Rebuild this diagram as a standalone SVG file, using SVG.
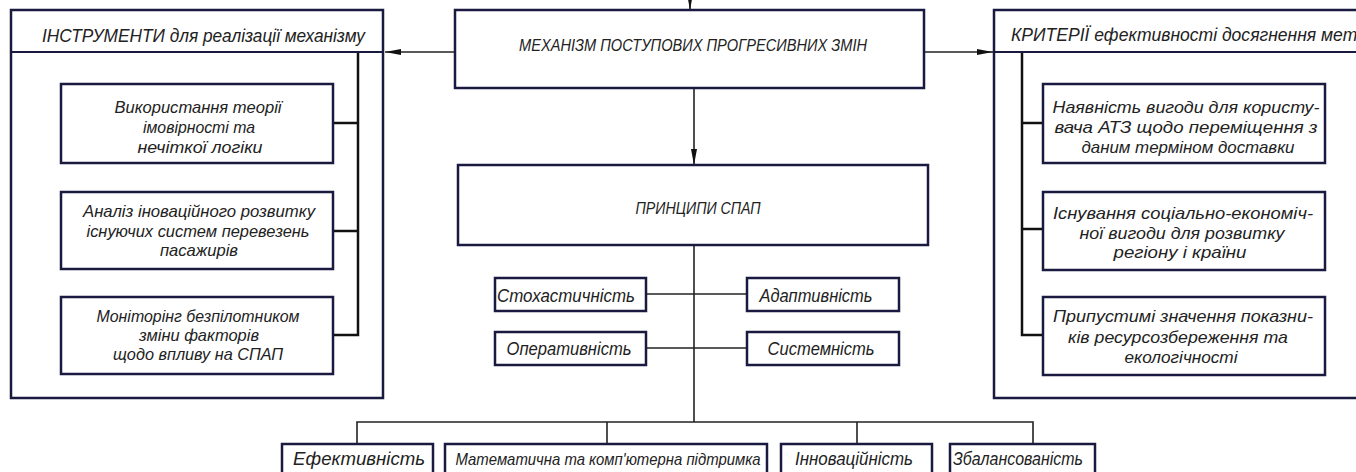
<svg xmlns="http://www.w3.org/2000/svg" width="1356" height="472" viewBox="0 0 1356 472">
  <style>
    .bg { fill: #ffffff; }
    .panel { fill: #ffffff; stroke: #1a1a40; stroke-width: 2.5; }
    .box { fill: #ffffff; stroke: #1a1a40; stroke-width: 2.5; }
    .sep { stroke: #1a1a40; stroke-width: 2; fill: none; }
    .bus { stroke: #111111; stroke-width: 2.5; fill: none; }
    .wire { stroke: #222222; stroke-width: 1.6; fill: none; }
    .arrow { stroke: #222222; stroke-width: 1.6; fill: none; marker-end: url(#ah); }
    text { font-family: "Liberation Sans Narrow", "Liberation Sans", Arial, sans-serif; font-style: italic; fill: #222222; }
    .t17 { font-size: 17px; }
    .t19 { font-size: 19px; }
    .t16 { font-size: 16px; }
    .mid { text-anchor: middle; }
  </style>
  <defs>
    <marker id="ah" viewBox="0 0 16 6" refX="16" refY="3" markerWidth="16" markerHeight="6" markerUnits="userSpaceOnUse" orient="auto">
      <path d="M0,0 L16,3 L0,6 Z" fill="#111111"/>
    </marker>
  </defs>
  <rect class="bg" x="0" y="0" width="1356" height="472"/>

  <g id="connectors">
    <line class="arrow" x1="690" y1="-6" x2="690" y2="10"/>
    <line class="arrow" x1="694" y1="88" x2="694" y2="165"/>
    <line class="arrow" x1="455" y1="52" x2="385" y2="52"/>
    <line class="arrow" x1="924" y1="52" x2="993" y2="52"/>
    <line class="wire" x1="694" y1="245" x2="694" y2="422"/>
    <line class="wire" x1="646" y1="294" x2="747" y2="294"/>
    <line class="wire" x1="646" y1="348" x2="747" y2="348"/>
    <polyline class="wire" points="357,444 357,422 1033,422 1033,444"/>
    <line class="wire" x1="607" y1="422" x2="607" y2="444"/>
    <line class="wire" x1="857" y1="422" x2="857" y2="444"/>
    <polyline class="bus" points="358,52 358,335 333,335"/>
    <line class="bus" x1="333" y1="123" x2="358" y2="123"/>
    <line class="bus" x1="333" y1="231" x2="358" y2="231"/>
    <polyline class="bus" points="1022,52 1022,335 1043,335"/>
    <line class="bus" x1="1022" y1="123" x2="1043" y2="123"/>
    <line class="bus" x1="1022" y1="229" x2="1043" y2="229"/>
  </g>

  <g id="tools-panel">
    <rect class="panel" x="11" y="10" width="372" height="388" fill="none" style="fill:none"/>
    <line class="sep" x1="11" y1="52" x2="383" y2="52"/>
    <text class="t19 mid" x="203.5" y="42" textLength="323" lengthAdjust="spacingAndGlyphs">ІНСТРУМЕНТИ для реалізації механізму</text>
  </g>
  <g id="tool-1">
    <rect class="box" x="61" y="84" width="272" height="79"/>
    <text class="t17 mid" x="198" y="113" textLength="167" lengthAdjust="spacingAndGlyphs">Використання теорії</text>
    <text class="t17 mid" x="199" y="133" textLength="112" lengthAdjust="spacingAndGlyphs">імовірності та</text>
    <text class="t17 mid" x="200" y="153" textLength="125" lengthAdjust="spacingAndGlyphs">нечіткої логіки</text>
  </g>
  <g id="tool-2">
    <rect class="box" x="61" y="192" width="272" height="77"/>
    <text class="t17 mid" x="199" y="217" textLength="232" lengthAdjust="spacingAndGlyphs">Аналіз іноваційного розвитку</text>
    <text class="t17 mid" x="198" y="237" textLength="223" lengthAdjust="spacingAndGlyphs">існуючих систем перевезень</text>
    <text class="t17 mid" x="199" y="256" textLength="78" lengthAdjust="spacingAndGlyphs">пасажирів</text>
  </g>
  <g id="tool-3">
    <rect class="box" x="61" y="297" width="272" height="77"/>
    <text class="t17 mid" x="198" y="322" textLength="203" lengthAdjust="spacingAndGlyphs">Моніторінг безпілотником</text>
    <text class="t17 mid" x="199" y="341" textLength="120" lengthAdjust="spacingAndGlyphs">зміни факторів</text>
    <text class="t17 mid" x="198" y="360" textLength="170" lengthAdjust="spacingAndGlyphs">щодо впливу на СПАП</text>
  </g>

  <g id="mechanism">
    <rect class="box" x="455" y="10" width="469" height="78"/>
    <text class="t17 mid" x="693" y="51" textLength="348" lengthAdjust="spacingAndGlyphs">МЕХАНІЗМ ПОСТУПОВИХ ПРОГРЕСИВНИХ ЗМІН</text>
  </g>

  <g id="principles">
    <rect class="box" x="458" y="165" width="470" height="80"/>
    <text class="t16 mid" x="698" y="214" textLength="125" lengthAdjust="spacingAndGlyphs">ПРИНЦИПИ СПАП</text>
  </g>
  <g id="p-stochastic">
    <rect class="box" x="495" y="278" width="151" height="33"/>
    <text class="t19 mid" x="566" y="302" textLength="138" lengthAdjust="spacingAndGlyphs">Стохастичність</text>
  </g>
  <g id="p-adaptive">
    <rect class="box" x="747" y="278" width="152" height="33"/>
    <text class="t19 mid" x="816" y="302" textLength="113" lengthAdjust="spacingAndGlyphs">Адаптивність</text>
  </g>
  <g id="p-operative">
    <rect class="box" x="495" y="332" width="151" height="33"/>
    <text class="t19 mid" x="569" y="355" textLength="125" lengthAdjust="spacingAndGlyphs">Оперативність</text>
  </g>
  <g id="p-systemic">
    <rect class="box" x="747" y="332" width="152" height="33"/>
    <text class="t19 mid" x="821" y="355" textLength="107" lengthAdjust="spacingAndGlyphs">Системність</text>
  </g>

  <g id="b-efficiency">
    <rect class="box" x="282" y="444" width="151" height="40"/>
    <text class="t19 mid" x="359" y="465" textLength="132" lengthAdjust="spacingAndGlyphs">Ефективність</text>
  </g>
  <g id="b-math">
    <rect class="box" x="445" y="444" width="322" height="40"/>
    <text class="t17 mid" x="608" y="465" textLength="305" lengthAdjust="spacingAndGlyphs">Математична та комп'ютерна підтримка</text>
  </g>
  <g id="b-innovation">
    <rect class="box" x="781" y="444" width="151" height="40"/>
    <text class="t19 mid" x="854" y="465" textLength="118" lengthAdjust="spacingAndGlyphs">Інноваційність</text>
  </g>
  <g id="b-balance">
    <rect class="box" x="950" y="444" width="145" height="40"/>
    <text class="t19 mid" x="1018" y="465" textLength="130" lengthAdjust="spacingAndGlyphs">Збалансованість</text>
  </g>

  <g id="criteria-panel">
    <rect class="panel" x="994" y="10" width="380" height="388" style="fill:none"/>
    <line class="sep" x1="994" y1="52" x2="1374" y2="52"/>
    <text class="t19" x="1011" y="41" textLength="356" lengthAdjust="spacingAndGlyphs">КРИТЕРІЇ ефективності досягнення мети</text>
  </g>
  <g id="criterion-1">
    <rect class="box" x="1043" y="84" width="282" height="79"/>
    <text class="t17 mid" x="1186" y="113" textLength="267" lengthAdjust="spacingAndGlyphs">Наявність вигоди для користу-</text>
    <text class="t17 mid" x="1186" y="133" textLength="263" lengthAdjust="spacingAndGlyphs">вача АТЗ щодо переміщення з</text>
    <text class="t17 mid" x="1188" y="153" textLength="213" lengthAdjust="spacingAndGlyphs">даним терміном доставки</text>
  </g>
  <g id="criterion-2">
    <rect class="box" x="1043" y="192" width="282" height="78"/>
    <text class="t17 mid" x="1183" y="219" textLength="260" lengthAdjust="spacingAndGlyphs">Існування соціально-економіч-</text>
    <text class="t17 mid" x="1182" y="239" textLength="205" lengthAdjust="spacingAndGlyphs">ної вигоди для розвитку</text>
    <text class="t17 mid" x="1180" y="258" textLength="133" lengthAdjust="spacingAndGlyphs">регіону і країни</text>
  </g>
  <g id="criterion-3">
    <rect class="box" x="1043" y="297" width="282" height="78"/>
    <text class="t17 mid" x="1183" y="322" textLength="260" lengthAdjust="spacingAndGlyphs">Припустимі значення показни-</text>
    <text class="t17 mid" x="1178" y="343" textLength="220" lengthAdjust="spacingAndGlyphs">ків ресурсозбереження та</text>
    <text class="t17 mid" x="1181" y="363" textLength="113" lengthAdjust="spacingAndGlyphs">екологічності</text>
  </g>
</svg>
